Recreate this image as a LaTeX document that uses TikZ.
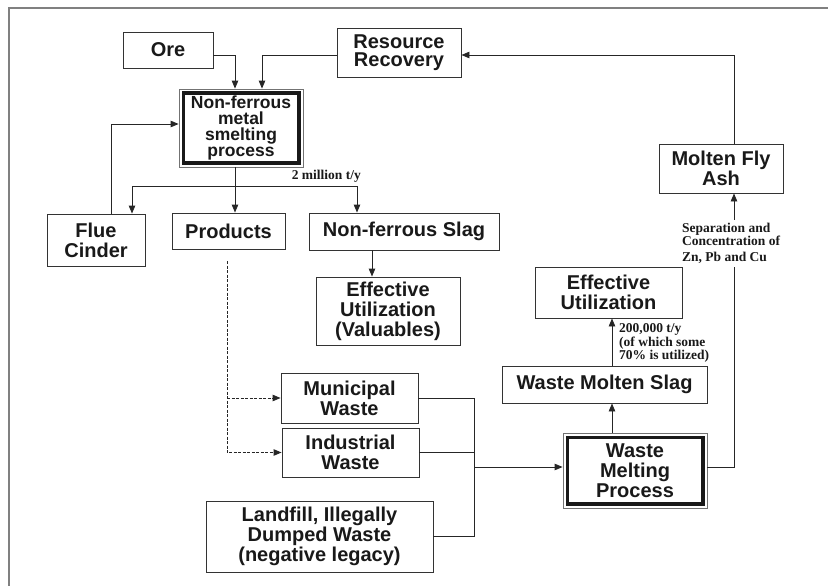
\documentclass[tikz,border=0pt]{standalone}
\usepackage{fontspec}
\setmainfont{Liberation Sans}
\newfontfamily\serifb{Liberation Serif}
\usetikzlibrary{arrows.meta}
\begin{document}
\begin{tikzpicture}[x=1pt,y=-1pt,
  box/.style={draw=black!80, line width=0.9pt, fill=white, align=center,
    font=\fontsize{20}{20}\selectfont\bfseries, inner sep=0pt, text=black!90},
  dbl/.style={box, draw=black!55, line width=0.8pt},
  ln/.style={draw=black!85, line width=0.9pt},
  arr/.style={ln, -{Triangle[length=8pt,width=6.5pt]}},
  darr/.style={arr, dashed, dash pattern=on 3pt off 1.5pt},
  lab/.style={font=\serifb\bfseries\fontsize{13.5}{11}\selectfont, align=left, inner sep=0pt, text=black!90}
]
\useasboundingbox (0,0) rectangle (828,586);
\draw[black!50, line width=1.4pt] (828,8) -- (9,8) -- (9,586);

% nodes
\node[box, minimum width=90pt, minimum height=36pt] (ore) at (168,50) {Ore};
\node[box, minimum width=124pt, minimum height=49pt, font=\fontsize{20}{18.5}\selectfont\bfseries] (rr) at (399,52.5) {Resource\\Recovery};
\node[dbl, minimum width=124pt, minimum height=78pt, font=\fontsize{17.5}{16}\selectfont\bfseries] (sm) at (241,128) {Non-ferrous\\metal\\smelting\\process};
\draw[line width=3.2pt, black!90] ([shift={(4.5pt,-4.5pt)}]sm.north west) rectangle ([shift={(-4.5pt,4.5pt)}]sm.south east);
\node[box, minimum width=98pt, minimum height=52pt] (flue) at (96,240) {Flue\\Cinder};
\node[box, minimum width=113pt, minimum height=36pt] (prod) at (228.5,231) {Products};
\node[box, minimum width=190pt, minimum height=37pt] (nfs) at (404,231.5) {Non-ferrous Slag};
\node[box, minimum width=144pt, minimum height=68pt] (euv) at (388,311) {Effective\\Utilization\\(Valuables)};
\node[box, minimum width=137pt, minimum height=50pt] (mun) at (349.5,398) {Municipal\\Waste};
\node[box, minimum width=137pt, minimum height=49pt] (ind) at (350.5,452.5) {Industrial\\Waste};
\node[box, minimum width=227pt, minimum height=71pt, font=\fontsize{20}{18}\selectfont\bfseries] (lf) at (319.5,536.5) {Landfill, Illegally\\Dumped Waste\\(negative legacy)};
\node[dbl, minimum width=144pt, minimum height=75pt] (wmp) at (635,470.5) {Waste\\Melting\\Process};
\draw[line width=3.2pt, black!90] ([shift={(4.5pt,-4.5pt)}]wmp.north west) rectangle ([shift={(-4.5pt,4.5pt)}]wmp.south east);
\node[box, minimum width=205pt, minimum height=37pt] (wms) at (604.5,384.5) {Waste Molten Slag};
\node[box, minimum width=147pt, minimum height=51pt] (eu) at (608.5,292.5) {Effective\\Utilization};
\node[box, minimum width=124pt, minimum height=49pt] (mfa) at (721,168.5) {Molten Fly\\Ash};

% coordinates
\coordinate (split) at (235,186);
\coordinate (dtop) at (227,261);
\coordinate (col) at (474,467);
\coordinate (xs) at (612,0);
\coordinate (xr) at (734,0);

% connectors top
\draw[arr] ([yshift=-5pt]ore.east) -| ([xshift=-6pt]sm.north);
\draw[arr] ([yshift=-2.5pt]rr.west) -| ([xshift=21pt]sm.north);
\draw[arr] ([xshift=15pt]flue.north) |- ([yshift=4pt]sm.west);
\draw[ln] (split |- sm.south) -- (split);
\draw[arr] (split) -| ([xshift=36pt]flue.north);
\draw[arr] (split) -- (split |- prod.north);
\draw[arr] (split) -| ([xshift=-47pt]nfs.north);
\node[lab, anchor=south east] (mil) at (361,183) {2 million t/y};
\draw[arr] ([xshift=-32pt]nfs.south) -- ([xshift=-16pt]euv.north);

% dashed
\draw[darr] (dtop) |- (ind.west);
\draw[darr] (dtop |- mun.west) -- (mun.west);

% collector
\draw[ln] (mun.east) -| (col);
\draw[ln] (ind.east) -| (col);
\draw[ln] (lf.east) -| (col);
\draw[arr] (col) -- (col -| wmp.west);

% slag
\draw[arr] (xs |- wmp.north) -- (xs |- wms.south);
\draw[arr] (xs |- wms.north) -- (xs |- eu.south);
\node[lab, anchor=west] (t200) at (619,343) {200,000 t/y\\(of which some\\70\% is utilized)};

% fly ash
\draw[arr] (col -| wmp.east) -| (xr |- mfa.south);
\node[lab, fill=white, inner sep=3pt, anchor=north west] (sep) at (679,220) {Separation and\\Concentration of\\[5pt]Zn, Pb and Cu};
\draw[arr] (xr |- mfa.north) |- ([yshift=-2.5pt]rr.east);
\end{tikzpicture}
\end{document}
